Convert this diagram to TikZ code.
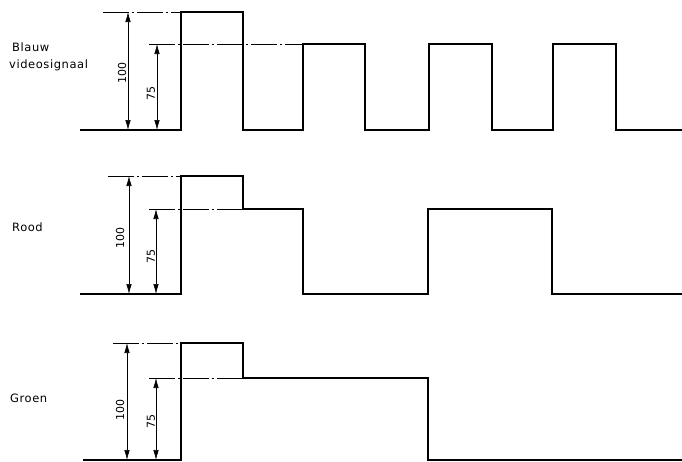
\documentclass[tikz,border=0pt]{standalone}
\usepackage{fontspec}
\setmainfont{DejaVu Sans}[LetterSpace=5]
\newfontfamily\numfont{DejaVu Sans}
\usetikzlibrary{arrows.meta}
\begin{document}
\begin{tikzpicture}[x=1pt,y=-1pt,
  signal/.style={line width=1.3pt,line join=miter},
  refline/.style={line width=0.6pt,dash pattern=on 26pt off 3pt on 2pt off 3pt},
  dimarrow/.style={line width=0.6pt,{Latex[length=10pt,width=5.5pt]}-{Latex[length=10pt,width=5.5pt]}},
  lbl/.style={anchor=base west,inner sep=0pt,font=\fontsize{11.5}{13}\selectfont},
  num/.style={rotate=90,inner sep=0pt,font=\numfont\fontsize{11}{13}\selectfont}]
\useasboundingbox (0,0) rectangle (682,461);
% ---------- Blauw ----------
\node[lbl] (lb1) at (12,51) {Blauw};
\node[lbl] (lb2) at (9,68.5) {videosignaal};
\draw[signal] (80,130) -- (181,130) -- (181,12) -- (243,12) -- (243,130) -- (303,130) -- (303,44) -- (365,44) -- (365,130)
  -- (429,130) -- (429,44) -- (492,44) -- (492,130) -- (553,130) -- (553,44) -- (616,44) -- (616,130) -- (682,130);
\draw[refline] (103,12) -- (181,12);
\draw[refline] (149,44) -- (303,44);
\coordinate (b1t) at (128,12); \coordinate (b1b) at (128,130);
\coordinate (b2t) at (157,44); \coordinate (b2b) at (157,130);
\draw[dimarrow] (b1t) -- (b1b);
\draw[dimarrow] (b2t) -- (b2b);
\node[num] (bn1) at (122,73) {100};
\node[num] (bn2) at (151,93) {75};
% ---------- Rood ----------
\node[lbl] (lr) at (12,231) {Rood};
\draw[signal] (80,294) -- (181,294) -- (181,176) -- (243,176) -- (243,209) -- (303,209) -- (303,294) -- (428,294)
  -- (428,209) -- (552,209) -- (552,294) -- (682,294);
\draw[refline] (108,176) -- (181,176);
\draw[refline] (149,209) -- (243,209);
\coordinate (r1t) at (129,176); \coordinate (r1b) at (129,294);
\coordinate (r2t) at (156,209); \coordinate (r2b) at (156,294);
\draw[dimarrow] (r1t) -- (r1b);
\draw[dimarrow] (r2t) -- (r2b);
\node[num] (rn1) at (120,238) {100};
\node[num] (rn2) at (151,256) {75};
% ---------- Groen ----------
\node[lbl] (lg) at (10,402) {Groen};
\draw[signal] (83,460) -- (181,460) -- (181,343) -- (243,343) -- (243,378) -- (428,378) -- (428,460) -- (682,460);
\draw[refline] (113,343) -- (181,343);
\draw[refline] (149,378) -- (243,378);
\coordinate (g1t) at (127,343); \coordinate (g1b) at (127,460);
\coordinate (g2t) at (156,378); \coordinate (g2b) at (156,460);
\draw[dimarrow] (g1t) -- (g1b);
\draw[dimarrow] (g2t) -- (g2b);
\node[num] (gn1) at (120,410) {100};
\node[num] (gn2) at (151,421) {75};
\end{tikzpicture}
\end{document}
